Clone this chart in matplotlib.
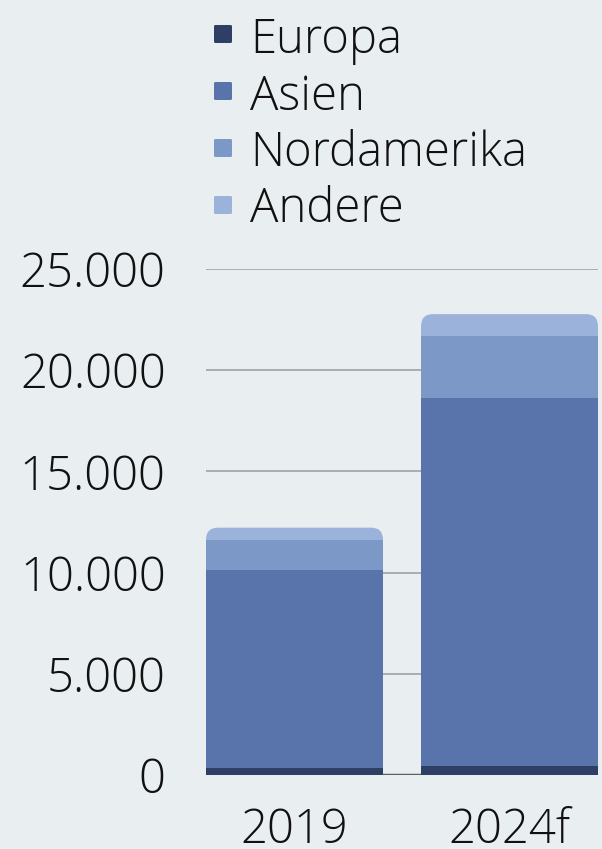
import matplotlib
matplotlib.use("Agg")
import matplotlib.pyplot as plt
from matplotlib.patches import FancyBboxPatch
import numpy as np

plt.rcParams['font.family'] = ['Open Sans', 'DejaVu Sans']

# DATA
years = ['2019', '2024f']
regions = ['Europa', 'Asien', 'Nordamerika', 'Andere']
europa = [350, 450]
asien = [9780, 18200]
nordamerika = [1480, 3020]
andere = [610, 1100]
yticks = [0, 5000, 10000, 15000, 20000, 25000]
ytick_labels = ['0', '5.000', '10.000', '15.000', '20.000', '25.000']

colors = ['#2e3f66', '#5874aa', '#7b98c6', '#9bb3da']
bg = '#e9eef1'

fig = plt.figure(figsize=(6.02, 8.49), dpi=100, facecolor=bg)
ax = fig.add_axes([206/602, 1-775/849, 392/602, (775-269)/849])
ax.set_facecolor(bg)

x = np.arange(len(years))
w = 0.823
ax.set_xlim(-0.4116, 1.4116)
ax.set_ylim(0, 25000)

# grid
for t in yticks[1:]:
    ax.axhline(t, color='#a8a8a8', lw=1.3, zorder=0)
ax.axhline(0, color='#606060', lw=2.5, zorder=0)

series = [europa, asien, nordamerika]
bottom = np.zeros(len(years))
for vals, c in zip(series, colors[:3]):
    ax.bar(x, vals, w, bottom=bottom, color=c, zorder=3, linewidth=0)
    bottom += np.array(vals)

# top segment with rounded corners (drawn behind lower segments)
px_x = (1.4116 + 0.4116) / 392.0
px_y = 25000 / 506.0
r = 12 * px_x
for xi, b, h in zip(x, bottom, andere):
    p = FancyBboxPatch((xi - w/2, 0), w, b + h,
                       boxstyle='round,pad=0,rounding_size=%f' % r,
                       mutation_aspect=px_y/px_x,
                       facecolor=colors[3], edgecolor='none', zorder=2)
    ax.add_patch(p)

for s in ax.spines.values():
    s.set_visible(False)
ax.set_yticks(yticks)
ax.set_yticklabels(ytick_labels)
ax.set_xticks(x)
ax.set_xticklabels(years)
ax.tick_params(length=0, labelsize=34, colors='#111111')
ax.tick_params(axis='y', pad=29)
ax.tick_params(axis='x', pad=23)
for lab in ax.get_xticklabels() + ax.get_yticklabels():
    lab.set_fontweight('light')

# legend
for i, (name, c) in enumerate(zip(regions, colors)):
    yc = 1 - (34 + i*57) / 849
    fig.patches.append(FancyBboxPatch((214/602, yc - 9/849), 18/602, 18/849,
                                      boxstyle='round,pad=0,rounding_size=0.002',
                                      transform=fig.transFigure, facecolor=c,
                                      edgecolor='none'))
    fig.text(250/602, 1 - (53 + i*56.5) / 849, name, fontsize=34, fontweight='light',
             va='baseline', ha='left', color='#111111')

plt.savefig('out.png', dpi=100, facecolor=bg)
